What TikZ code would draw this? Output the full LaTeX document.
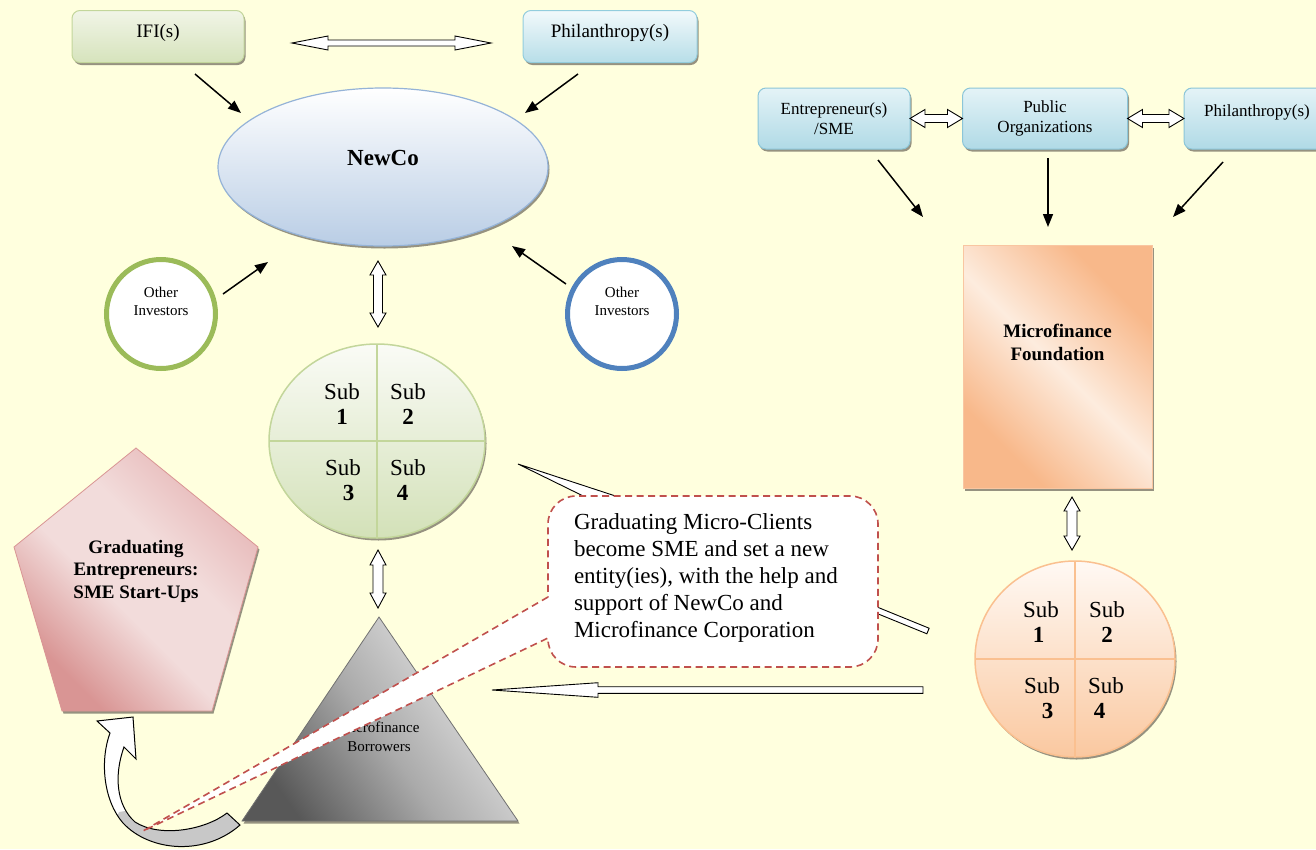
\documentclass[tikz,border=0pt]{standalone}
\usepackage{fontspec}
\setmainfont{Liberation Serif}
\usetikzlibrary{calc,arrows.meta,shapes.geometric}

% palette
\definecolor{bgc}{RGB}{255,255,222}
\definecolor{shc}{RGB}{150,146,128}
\definecolor{ifiT}{RGB}{241,245,231}
\definecolor{ifiB}{RGB}{214,227,188}
\definecolor{ifiD}{RGB}{195,214,155}
\definecolor{phT}{RGB}{242,249,251}
\definecolor{phB}{RGB}{183,222,232}
\definecolor{phD}{RGB}{147,205,221}
\definecolor{rbT}{RGB}{228,243,247}
\definecolor{rbB}{RGB}{176,218,230}
\definecolor{rbD}{RGB}{140,198,216}
\definecolor{ncT}{RGB}{255,255,255}
\definecolor{ncB}{RGB}{185,205,229}
\definecolor{ncD}{RGB}{149,179,215}
\definecolor{oiG}{RGB}{155,187,89}
\definecolor{oiB}{RGB}{79,129,189}
\definecolor{sgT}{RGB}{250,251,246}
\definecolor{sgB}{RGB}{211,225,184}
\definecolor{sgD}{RGB}{195,214,155}
\definecolor{soT}{RGB}{255,249,244}
\definecolor{soB}{RGB}{250,200,160}
\definecolor{soD}{RGB}{250,192,144}
\definecolor{fdOr}{RGB}{248,184,138}
\definecolor{fdLi}{RGB}{253,236,222}
\definecolor{peDk}{RGB}{217,149,148}
\definecolor{peMd}{RGB}{230,182,182}
\definecolor{peLi}{RGB}{242,220,219}
\definecolor{trDk}{RGB}{88,88,88}
\definecolor{trMd}{RGB}{170,170,170}
\definecolor{trLi}{RGB}{204,204,204}
\definecolor{clR}{RGB}{192,80,77}
\definecolor{caG}{RGB}{200,200,200}

% diagonal gradients
\pgfdeclarehorizontalshading{fdshade}{100bp}{color(0bp)=(fdOr); color(28bp)=(fdOr); color(50bp)=(fdLi); color(72bp)=(fdOr); color(100bp)=(fdOr)}
\pgfdeclarehorizontalshading{peshade}{100bp}{color(0bp)=(peDk); color(27bp)=(peDk); color(44bp)=(peLi); color(58bp)=(peLi); color(75bp)=(peMd); color(100bp)=(peDk)}
\pgfdeclarehorizontalshading{trshade}{100bp}{color(0bp)=(trDk); color(25bp)=(trDk); color(48bp)=(trMd); color(62bp)=(trLi); color(100bp)=(trLi)}

% type sizes
\newcommand{\fbig}{\fontsize{23}{27}\selectfont}
\newcommand{\fsub}{\fontsize{23}{25}\selectfont}
\newcommand{\fmid}{\fontsize{19}{22.5}\selectfont}
\newcommand{\fsml}{\fontsize{17}{20}\selectfont}
\newcommand{\ftny}{\fontsize{15}{18.5}\selectfont}

% block arrow with two heads: from, to, head length, head half width, shaft half width
\newcommand{\dblblock}[5]{%
  \draw[blk] (#1)
   -- ($($(#1)!#3!(#2)$)!#4!90:(#2)$)
   -- ($($(#1)!#3!(#2)$)!#5!90:(#2)$)
   -- ($($(#2)!#3!(#1)$)!#5!-90:(#1)$)
   -- ($($(#2)!#3!(#1)$)!#4!-90:(#1)$)
   -- (#2)
   -- ($($(#2)!#3!(#1)$)!#4!90:(#1)$)
   -- ($($(#2)!#3!(#1)$)!#5!90:(#1)$)
   -- ($($(#1)!#3!(#2)$)!#5!-90:(#2)$)
   -- ($($(#1)!#3!(#2)$)!#4!-90:(#2)$)
   -- cycle;}
% block arrow with one head: tail, tip, head length, head half width, shaft half width
\newcommand{\sglblock}[5]{%
  \draw[blk] ($(#1)!#5!90:(#2)$)
   -- ($($(#2)!#3!(#1)$)!#5!-90:(#1)$)
   -- ($($(#2)!#3!(#1)$)!#4!-90:(#1)$)
   -- (#2)
   -- ($($(#2)!#3!(#1)$)!#4!90:(#1)$)
   -- ($($(#2)!#3!(#1)$)!#5!90:(#1)$)
   -- ($(#1)!#5!-90:(#2)$)
   -- cycle;}
% outline of the curved arrow below the pentagon
\newcommand{\cvpath}{(97,721) -- (133,717) -- (136,759) -- (124,747)
   .. controls (114,775) and (116,805) .. (135,822)
   .. controls (160,838) and (205,830) .. (227,813)
   -- (240,825)
   .. controls (205,856) and (150,852) .. (123,823)
   .. controls (103,800) and (100,760) .. (110,733) -- cycle}

\tikzset{
  shadowed/.style={preaction={fill=shc, draw=none, transform canvas={xshift=1.5pt,yshift=-2.5pt}}},
  rbox/.style={rectangle, rounded corners=8pt, line width=1pt, shadowed},
  blk/.style={draw=black, fill=white, line width=0.9pt, line join=miter},
  lnarrow/.style={line width=1.5pt, -{Triangle[length=13pt,width=10pt]}},
  oinv/.style={circle, minimum size=109pt, line width=5pt, fill=white},
  subtxt/.style={font=\fsub, align=center},
}

\begin{document}
\begin{tikzpicture}[x=1pt, y=-1pt, every node/.style={inner sep=0pt, outer sep=0pt}]
\useasboundingbox (0,0) rectangle (1316,849);
\fill[bgc] (0,0) rectangle (1316,849);

% ---- NewCo group ----
\node[rbox, top color=ifiT, bottom color=ifiB, draw=ifiD, minimum width=172pt, minimum height=52pt,
      label={[font=\fmid, yshift=4pt]center:IFI(s)}] (ifi) at (158,36.5) {};
\node[rbox, top color=phT, bottom color=phB, draw=phD, minimum width=174pt, minimum height=52pt,
      label={[font=\fmid, yshift=4pt]center:Philanthropy(s)}] (phl) at (610,36.5) {};
\node[ellipse, minimum width=330pt, minimum height=158pt, top color=ncT, bottom color=ncB,
      draw=ncD, line width=1.2pt, shadowed,
      label={[font=\bfseries\fbig, yshift=9pt]center:NewCo}] (newco) at (383,167) {};
\node[oinv, draw=oiG, label={[font=\ftny, align=center, yshift=12.5pt]center:Other\\Investors}] (oil) at (161,314) {};
\node[oinv, draw=oiB, label={[font=\ftny, align=center, yshift=12.5pt]center:Other\\Investors}] (oir) at (622,314) {};

% subsidiaries of NewCo
\node[ellipse, minimum width=216pt, minimum height=194pt, top color=sgT, bottom color=sgB,
      draw=sgD, line width=1.5pt, shadowed] (subg) at (377,441) {};
\draw[sgD, line width=1.8pt] (subg.north) -- (subg.south) (subg.west) -- (subg.east);
\node[subtxt] (g1) at (342,404) {Sub\\\textbf{1}};
\node[subtxt] (g2) at (408,404) {Sub\\\textbf{2}};
\node[subtxt] (g3) at (343,480) {Sub\\\hspace*{11pt}\textbf{3}};
\node[subtxt] (g4) at (408,480) {Sub\\\textbf{4}\hspace*{11pt}};

% ---- Foundation group ----
\node[rbox, top color=rbT, bottom color=rbB, draw=rbD, minimum width=152pt, minimum height=61pt,
      font=\fsml, align=center] (ent) at (834,118.5) {Entrepreneur(s)\\/SME};
\node[rbox, top color=rbT, bottom color=rbB, draw=rbD, minimum width=165pt, minimum height=61pt,
      font=\fsml, align=center] (pub) at (1045,118.5) {Public\\Organizations};
\node[rbox, top color=rbT, bottom color=rbB, draw=rbD, minimum width=146pt, minimum height=61pt,
      label={[font=\fsml, yshift=6pt]center:Philanthropy(s)}] (phr) at (1257,118.5) {};
\node[rectangle, minimum width=189pt, minimum height=243pt, shading=fdshade, shading angle=45,
      draw=fdOr!80, line width=0.8pt, shadowed,
      label={[font=\bfseries\fmid, align=center, yshift=24pt]center:Microfinance\\Foundation}] (fnd) at (1057.5,366.5) {};
\node[ellipse, minimum width=200pt, minimum height=196pt, top color=soT, bottom color=soB,
      draw=soD, line width=1.5pt, shadowed] (subo) at (1075,659) {};
\draw[soD, line width=1.8pt] (subo.north) -- (subo.south) (subo.west) -- (subo.east);
\node[subtxt] (o1) at (1041,622) {Sub\\\textbf{1}\hspace*{5pt}};
\node[subtxt] (o2) at (1107,622) {Sub\\\textbf{2}};
\node[subtxt] (o3) at (1042,698) {Sub\\\hspace*{11pt}\textbf{3}};
\node[subtxt] (o4) at (1106,698) {Sub\\\textbf{4}\hspace*{13pt}};

% ---- start-ups and borrowers ----
\coordinate (pe1) at (136,448);
\coordinate (pe2) at (258,547);
\coordinate (pe3) at (212,711);
\coordinate (pe4) at (62,711);
\coordinate (pe5) at (14,547);
\path[shadowed, shading=peshade, shading angle=45, draw=peDk, line width=0.8pt]
  (pe1) -- (pe2) -- (pe3) -- (pe4) -- (pe5) -- cycle;
\node[font=\bfseries\fmid, align=center] (petext) at (136,571) {Graduating\\Entrepreneurs:\\SME Start-Ups};

\coordinate (tr1) at (379,617);
\coordinate (tr2) at (518,821);
\coordinate (tr3) at (242,821);
\path[shadowed, shading=trshade, shading angle=35, draw=trDk!85, line width=0.8pt]
  (tr1) -- (tr2) -- (tr3) -- cycle;
\node[font=\ftny, align=center] (trtext) at (379,737) {Microfinance\\Borrowers};

% ---- thin arrows ----
\coordinate (a1s) at (195,74);   \coordinate (a1e) at (241,113);
\coordinate (a2s) at (578,74);   \coordinate (a2e) at (525,113);
\coordinate (a3s) at (223,294);  \coordinate (a3e) at (268,262);
\coordinate (a4s) at (566,284);  \coordinate (a4e) at (512,246);
\coordinate (a5s) at (878,160);  \coordinate (a5e) at (923,217);
\coordinate (a6s) at (1048,158); \coordinate (a6e) at (1048,227);
\coordinate (a7s) at (1223,162); \coordinate (a7e) at (1173,217);
\foreach \k in {1,...,7} { \draw[lnarrow] (a\k s) -- (a\k e); }

% ---- block arrows ----
\coordinate (tdA) at (292,43);   \coordinate (tdB) at (491,43);
\coordinate (v1A) at (378,261);  \coordinate (v1B) at (378,327);
\coordinate (v2A) at (378,550);  \coordinate (v2B) at (378,608);
\coordinate (v3A) at (1072,497); \coordinate (v3B) at (1072,550);
\dblblock{tdA}{tdB}{36pt}{7pt}{3pt}
\dblblock{v1A}{v1B}{14pt}{8pt}{4.5pt}
\dblblock{v2A}{v2B}{15pt}{8pt}{5pt}
\dblblock{v3A}{v3B}{14pt}{8pt}{5pt}
\dblblock{ent.east}{pub.west}{15pt}{9pt}{4pt}
\dblblock{pub.east}{phr.west}{15pt}{9pt}{4pt}

\coordinate (laA) at (928,631); \coordinate (laB) at (518,464);
\coordinate (haA) at (923,690); \coordinate (haB) at (492,690);
\sglblock{laA}{laB}{115pt}{8pt}{3pt}
\sglblock{haA}{haB}{106pt}{7.3pt}{3.3pt}

% ---- curved arrow towards the start-ups ----
\begin{scope}
  \clip \cvpath;
  \fill[white] (90,700) rectangle (260,860);
  \fill[caG] (119,812) -- (260,790) -- (260,860) -- (100,860) -- cycle;
\end{scope}
\draw[black, line width=1pt, line join=miter] \cvpath;

% ---- callout ----
\path[fill=white, draw=clR, line width=1.6pt, dash pattern=on 7pt off 4.5pt]
  (548,597) -- (143,831) -- (548,638) -- (548,639)
  arc[start angle=180, end angle=270, radius=28pt] -- (850,667)
  arc[start angle=270, end angle=360, radius=28pt] -- (878,524)
  arc[start angle=0, end angle=90, radius=28pt] -- (576,496)
  arc[start angle=90, end angle=180, radius=28pt] -- cycle;
\node[font=\fbig, align=left, anchor=west] (ctext) at (574,578)
  {Graduating Micro-Clients\\become SME and set a new\\entity(ies), with the help and\\support of NewCo and\\Microfinance Corporation};
\end{tikzpicture}
\end{document}
